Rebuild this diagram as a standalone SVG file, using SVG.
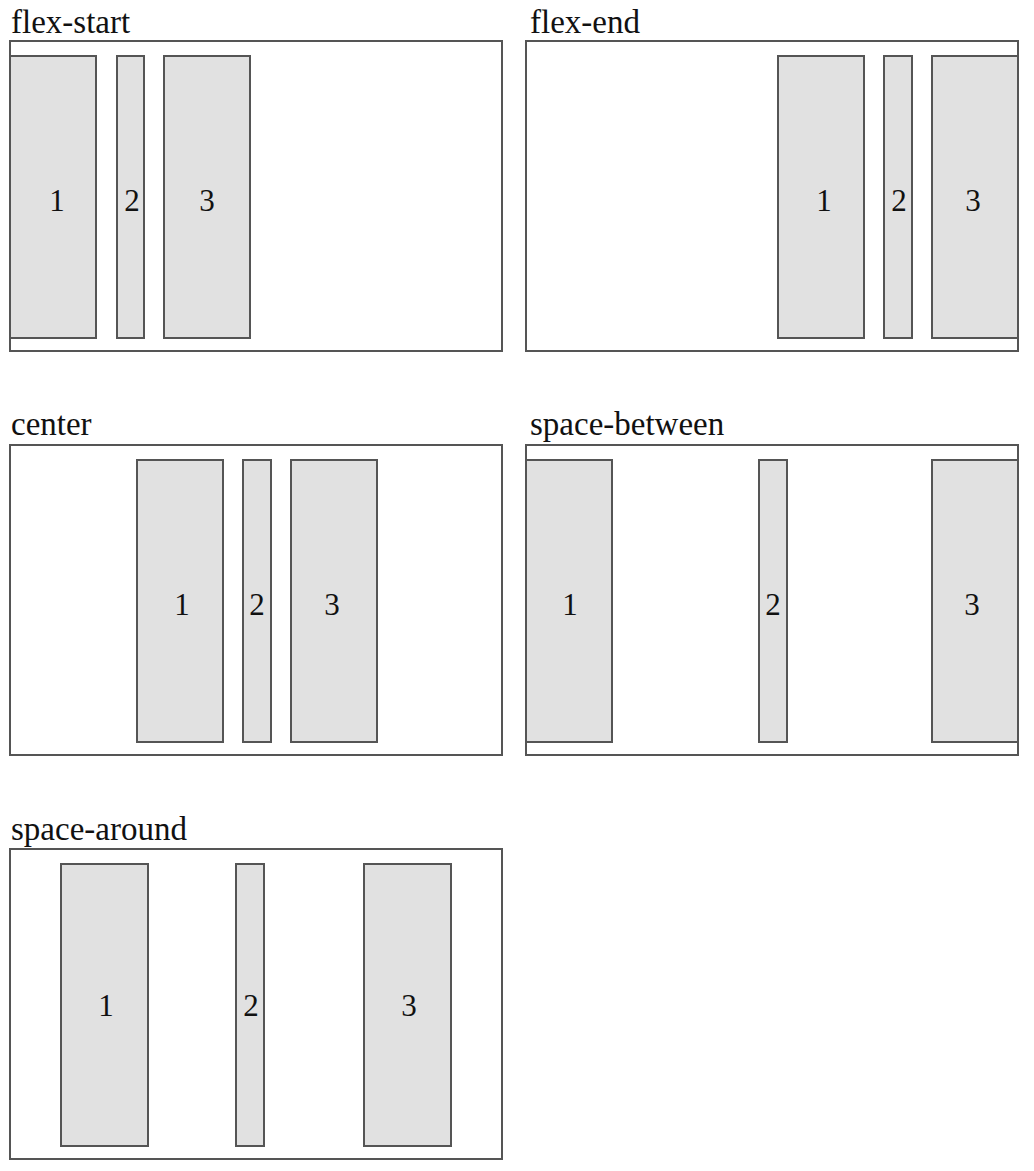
<svg xmlns="http://www.w3.org/2000/svg" width="1034" height="1171" viewBox="0 0 1034 1171">
<style>
.c{fill:#fff;stroke:#555;stroke-width:2}
.i{fill:#e1e1e1;stroke:#555;stroke-width:2}
.t{font-family:"Liberation Serif",serif;font-size:33px;fill:#111}
.n{font-family:"Liberation Serif",serif;font-size:31px;fill:#111;text-anchor:middle}
</style>
<rect width="1034" height="1171" fill="#fff"/>
<g id="flex-start">
<text class="t" x="11" y="33">flex-start</text>
<rect class="c" x="10" y="41" width="492" height="310"/>
<rect class="i" x="10" y="56" width="86" height="282"/>
<rect class="i" x="117" y="56" width="27" height="282"/>
<rect class="i" x="164" y="56" width="86" height="282"/>
<text class="n" x="57" y="211">1</text><text class="n" x="132" y="211">2</text><text class="n" x="207" y="211">3</text>
</g>
<g id="flex-end">
<text class="t" x="530" y="33">flex-end</text>
<rect class="c" x="526" y="41" width="492" height="310"/>
<rect class="i" x="778" y="56" width="86" height="282"/>
<rect class="i" x="884" y="56" width="28" height="282"/>
<rect class="i" x="932" y="56" width="86" height="282"/>
<text class="n" x="824" y="211">1</text><text class="n" x="899" y="211">2</text><text class="n" x="973" y="211">3</text>
</g>
<g id="center">
<text class="t" x="11" y="435">center</text>
<rect class="c" x="10" y="445" width="492" height="310"/>
<rect class="i" x="137" y="460" width="86" height="282"/>
<rect class="i" x="243" y="460" width="28" height="282"/>
<rect class="i" x="291" y="460" width="86" height="282"/>
<text class="n" x="182" y="615">1</text><text class="n" x="257" y="615">2</text><text class="n" x="332" y="615">3</text>
</g>
<g id="space-between">
<text class="t" x="530" y="435">space-between</text>
<rect class="c" x="526" y="445" width="492" height="310"/>
<rect class="i" x="526" y="460" width="86" height="282"/>
<rect class="i" x="759" y="460" width="28" height="282"/>
<rect class="i" x="932" y="460" width="86" height="282"/>
<text class="n" x="570" y="615">1</text><text class="n" x="773" y="615">2</text><text class="n" x="972" y="615">3</text>
</g>
<g id="space-around">
<text class="t" x="11" y="840">space-around</text>
<rect class="c" x="10" y="849" width="492" height="310"/>
<rect class="i" x="61" y="864" width="87" height="282"/>
<rect class="i" x="236" y="864" width="28" height="282"/>
<rect class="i" x="364" y="864" width="87" height="282"/>
<text class="n" x="106" y="1016">1</text><text class="n" x="251" y="1016">2</text><text class="n" x="409" y="1016">3</text>
</g>
<g id="connectors"/>
</svg>
